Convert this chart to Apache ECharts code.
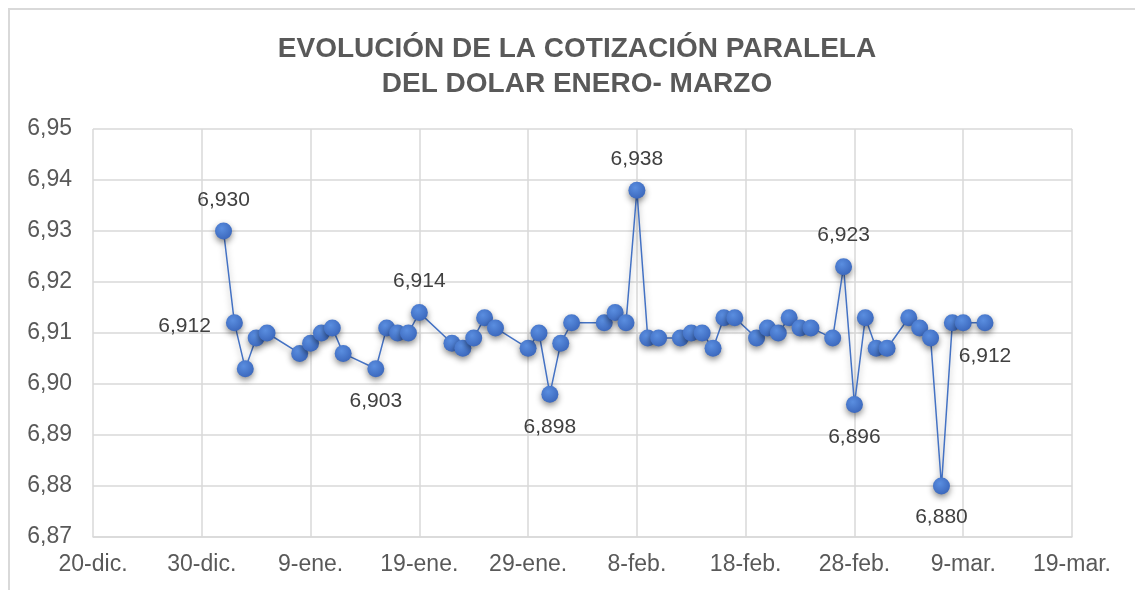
<!DOCTYPE html>
<html>
<head>
<meta charset="utf-8">
<script src="https://cdn.jsdelivr.net/npm/echarts@6/dist/echarts.min.js"></script>
<style>
  html, body { margin: 0; padding: 0; background: #fff; }
  #line { width: 1135px; height: 590px; }
</style>
</head>
<body>
<div id="line"></div>
<script>
// fechas y cotizaciones
const fechas = [
  '2024-01-01', '2024-01-02', '2024-01-03', '2024-01-04', '2024-01-05',
  '2024-01-08', '2024-01-09', '2024-01-10', '2024-01-11', '2024-01-12',
  '2024-01-15', '2024-01-16', '2024-01-17', '2024-01-18', '2024-01-19',
  '2024-01-22', '2024-01-23', '2024-01-24', '2024-01-25', '2024-01-26',
  '2024-01-29', '2024-01-30', '2024-01-31', '2024-02-01', '2024-02-02',
  '2024-02-05', '2024-02-06', '2024-02-07', '2024-02-08', '2024-02-09',
  '2024-02-10', '2024-02-12', '2024-02-13', '2024-02-14', '2024-02-15',
  '2024-02-16', '2024-02-17', '2024-02-19', '2024-02-20', '2024-02-21',
  '2024-02-22', '2024-02-23', '2024-02-24', '2024-02-26', '2024-02-27',
  '2024-02-28', '2024-02-29', '2024-03-01', '2024-03-02', '2024-03-04',
  '2024-03-05', '2024-03-06', '2024-03-07', '2024-03-08', '2024-03-09',
  '2024-03-11'
]
const cotizacion = [
  6.930, 6.912, 6.903, 6.909, 6.910,
  6.906, 6.908, 6.910, 6.911, 6.906,
  6.903, 6.911, 6.910, 6.910, 6.914,
  6.908, 6.907, 6.909, 6.913, 6.911,
  6.907, 6.910, 6.898, 6.908, 6.912,
  6.912, 6.914, 6.912, 6.938, 6.909,
  6.909, 6.909, 6.910, 6.910, 6.907,
  6.913, 6.913, 6.909, 6.911, 6.910,
  6.913, 6.911, 6.911, 6.909, 6.923,
  6.896, 6.913, 6.907, 6.907, 6.913,
  6.911, 6.909, 6.880, 6.912, 6.912,
  6.912
]
// puntos con etiqueta de valor
const etiquetas = [
  '2024-01-01', '2024-01-02', '2024-01-15', '2024-01-19', '2024-01-31',
  '2024-02-08', '2024-02-27', '2024-02-28', '2024-03-07', '2024-03-11'
]
// eje x: del 20-dic al 19-mar cada 10 dias
const inicio = '2023-12-20'
const fin = '2024-03-19'
const yTicks = [6.87, 6.88, 6.89, 6.90, 6.91, 6.92, 6.93, 6.94, 6.95]

const meses = ['ene', 'feb', 'mar', 'abr', 'may', 'jun', 'jul', 'ago', 'sep', 'oct', 'nov', 'dic']
const DIA = 24 * 3600 * 1000
const t0 = Date.UTC(2023, 11, 20)
function dias(s) {
  let p = s.split('-')
  return Math.round((Date.UTC(+p[0], +p[1] - 1, +p[2]) - t0) / DIA)
}
function coma(v, n) {
  return v.toFixed(n).replace('.', ',')
}

// donde va cada etiqueta
const posEtiqueta = {
  '2024-01-02': { position: 'left', distance: 15, offset: [0, 3] },
  '2024-01-15': { position: 'bottom', distance: 14 },
  '2024-01-31': { position: 'bottom', distance: 14 },
  '2024-02-28': { position: 'bottom', distance: 14 },
  '2024-03-07': { position: 'bottom', distance: 12 },
  '2024-03-11': { position: 'bottom', distance: 14 }
}

let myChart = echarts.init(document.querySelector('#line'))
let option = {
  animation: false,
  textStyle: { fontFamily: 'Liberation Sans, Arial, sans-serif' },
  title: {
    text: 'EVOLUCIÓN DE LA COTIZACIÓN PARALELA\nDEL DOLAR ENERO- MARZO',
    left: 572,
    top: 27,
    textAlign: 'center',
    textStyle: {
      fontSize: 28,
      fontWeight: 'bold',
      color: '#595959',
      lineHeight: 35
    }
  },
  graphic: [{
    type: 'rect',
    shape: { x: 9, y: 9, width: 1140, height: 600 },
    style: { fill: 'none', stroke: '#d9d9d9', lineWidth: 2 },
    silent: true
  }],
  grid: {
    left: 93,
    right: 63,
    top: 129,
    bottom: 53
  },
  xAxis: {
    type: 'value',
    min: dias(inicio),
    max: dias(fin),
    interval: 10,
    axisLine: { lineStyle: { color: '#d9d9d9', width: 1.5 } },
    axisTick: { show: false },
    splitLine: { show: true, lineStyle: { color: '#d9d9d9', width: 1.5 } },
    axisLabel: {
      color: '#595959',
      fontSize: 23,
      margin: 16,
      formatter: function (v) {
        let d = new Date(t0 + v * DIA)
        return d.getUTCDate() + '-' + meses[d.getUTCMonth()] + '.'
      }
    }
  },
  yAxis: {
    type: 'value',
    min: yTicks[0],
    max: yTicks[yTicks.length - 1],
    interval: 0.01,
    axisLine: { show: false },
    axisTick: { show: false },
    splitLine: { lineStyle: { color: '#d9d9d9', width: 1.5 } },
    axisLabel: {
      color: '#595959',
      fontSize: 23,
      margin: 21,
      formatter: v => coma(v, 2)
    }
  },
  series: [{
    type: 'line',
    symbol: 'circle',
    symbolSize: 17,
    z: 3,
    lineStyle: {
      color: '#4472c4',
      width: 1.5,
      shadowColor: 'rgba(0,0,0,0.35)',
      shadowBlur: 6,
      shadowOffsetY: 3
    },
    itemStyle: {
      color: {
        type: 'radial', x: 0.4, y: 0.35, r: 0.7,
        colorStops: [
          { offset: 0, color: '#5a8ee0' },
          { offset: 1, color: '#3a66bb' }
        ]
      },
      borderWidth: 0,
      shadowColor: 'rgba(0,0,0,0.45)',
      shadowBlur: 6,
      shadowOffsetY: 3
    },
    data: fechas.map((f, i) => {
      let punto = { value: [dias(f), cotizacion[i]] }
      if (etiquetas.includes(f)) {
        punto.label = Object.assign({
          show: true,
          position: 'top',
          distance: 12,
          fontSize: 21,
          color: '#404040',
          formatter: p => coma(p.value[1], 3)
        }, posEtiqueta[f] || {})
      }
      return punto
    })
  }]
}
myChart.setOption(option)
</script>
</body>
</html>
